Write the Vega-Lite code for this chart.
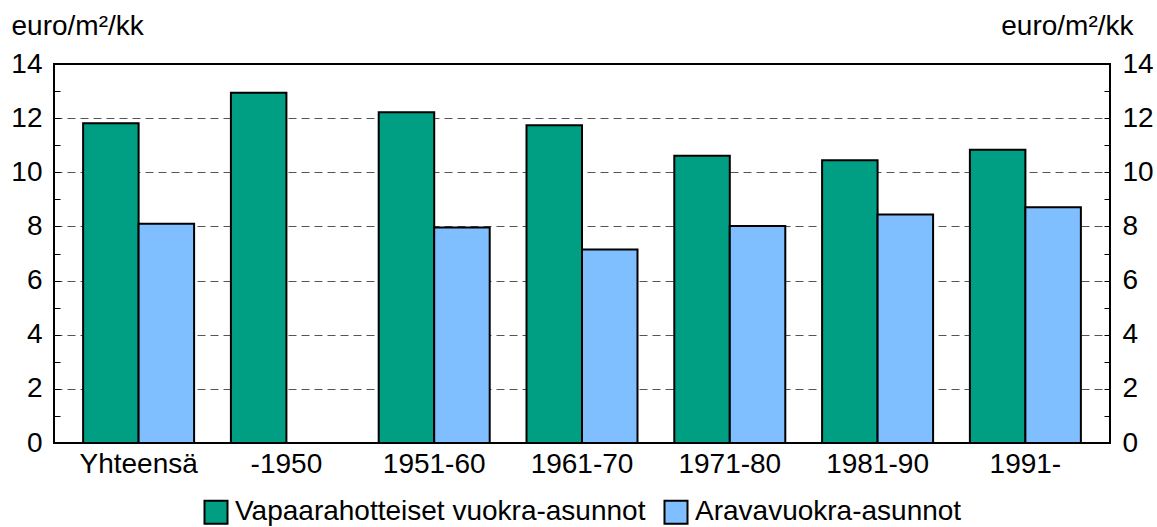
{
  "$schema": "https://vega.github.io/schema/vega-lite/v6.json",
  "width": 1056,
  "height": 379,
  "autosize": {"type": "none"},
  "padding": {"left": 54, "top": 64, "right": 47, "bottom": 84},
  "background": "white",
  "config": {
    "font": "Liberation Sans",
    "view": {"stroke": "black", "strokeWidth": 2},
    "axis": {"labelFont": "Liberation Sans", "labelColor": "black", "titleFont": "Liberation Sans", "titleColor": "black"},
    "legend": {"labelFont": "Liberation Sans", "labelColor": "black"}
  },
  "data": {
    "values": [
      {"kausi": "Yhteensä", "sarja": "Vapaarahotteiset vuokra-asunnot", "arvo": 11.81},
      {"kausi": "Yhteensä", "sarja": "Aravavuokra-asunnot", "arvo": 8.10},
      {"kausi": "-1950", "sarja": "Vapaarahotteiset vuokra-asunnot", "arvo": 12.94},
      {"kausi": "1951-60", "sarja": "Vapaarahotteiset vuokra-asunnot", "arvo": 12.22},
      {"kausi": "1951-60", "sarja": "Aravavuokra-asunnot", "arvo": 7.96},
      {"kausi": "1961-70", "sarja": "Vapaarahotteiset vuokra-asunnot", "arvo": 11.74},
      {"kausi": "1961-70", "sarja": "Aravavuokra-asunnot", "arvo": 7.15},
      {"kausi": "1971-80", "sarja": "Vapaarahotteiset vuokra-asunnot", "arvo": 10.61},
      {"kausi": "1971-80", "sarja": "Aravavuokra-asunnot", "arvo": 8.02},
      {"kausi": "1981-90", "sarja": "Vapaarahotteiset vuokra-asunnot", "arvo": 10.44},
      {"kausi": "1981-90", "sarja": "Aravavuokra-asunnot", "arvo": 8.44},
      {"kausi": "1991-", "sarja": "Vapaarahotteiset vuokra-asunnot", "arvo": 10.83},
      {"kausi": "1991-", "sarja": "Aravavuokra-asunnot", "arvo": 8.71}
    ]
  },
  "layer": [
    {
      "mark": {"type": "bar", "stroke": "black", "strokeWidth": 2},
      "encoding": {
        "x": {
          "field": "kausi", "type": "nominal",
          "sort": ["Yhteensä", "-1950", "1951-60", "1961-70", "1971-80", "1981-90", "1991-"],
          "scale": {"paddingInner": 0.249, "paddingOuter": 0.197},
          "axis": {"title": null, "labelAngle": 0, "labelFontSize": 28, "ticks": false, "domain": false, "labelPadding": 7}
        },
        "xOffset": {
          "field": "sarja", "type": "nominal",
          "sort": ["Vapaarahotteiset vuokra-asunnot", "Aravavuokra-asunnot"],
          "scale": {"paddingInner": 0, "paddingOuter": 0}
        },
        "y": {
          "field": "arvo", "type": "quantitative",
          "scale": {"domain": [0, 14], "nice": false},
          "axis": {
            "orient": "left",
            "values": [0, 1, 2, 3, 4, 5, 6, 7, 8, 9, 10, 11, 12, 13, 14],
            "labelExpr": "datum.value % 2 == 0 ? datum.label : ''",
            "grid": true, "gridDash": [8, 5], "gridColor": "#555555", "gridWidth": 1,
            "gridOpacity": {"condition": {"test": "datum.value % 2 == 1 || datum.value == 0 || datum.value == 14", "value": 0}, "value": 1},
            "tickSize": -6, "tickColor": "black", "tickWidth": 1,
            "domain": false,
            "labelFontSize": 28, "labelPadding": 18,
            "title": "euro/m²/kk", "titleAngle": 0, "titleAlign": "left", "titleBaseline": "alphabetic",
            "titleX": -43, "titleY": -30, "titleFontSize": 28, "titleFontWeight": "normal"
          }
        },
        "color": {
          "field": "sarja", "type": "nominal",
          "scale": {"domain": ["Vapaarahotteiset vuokra-asunnot", "Aravavuokra-asunnot"], "range": ["#009E82", "#80BFFF"]},
          "legend": {
            "orient": "none", "legendX": 148, "legendY": 434, "direction": "horizontal", "title": null,
            "symbolType": "square", "symbolSize": 529, "symbolStrokeColor": "black", "symbolStrokeWidth": 2,
            "symbolOpacity": 1, "labelFontSize": 28, "labelOffset": 5, "labelLimit": 0, "columnPadding": 14, "padding": 0
          }
        }
      }
    },
    {
      "mark": {"type": "bar", "opacity": 0},
      "encoding": {
        "x": {"field": "kausi", "type": "nominal", "sort": ["Yhteensä", "-1950", "1951-60", "1961-70", "1971-80", "1981-90", "1991-"]},
        "y": {
          "field": "arvo", "type": "quantitative",
          "scale": {"domain": [0, 14], "nice": false},
          "axis": {
            "orient": "right",
            "values": [0, 1, 2, 3, 4, 5, 6, 7, 8, 9, 10, 11, 12, 13, 14],
            "labelExpr": "datum.value % 2 == 0 ? datum.label : ''",
            "grid": false,
            "tickSize": -6, "tickColor": "black", "tickWidth": 1,
            "domain": false,
            "labelFontSize": 28, "labelPadding": 18,
            "title": "euro/m²/kk", "titleAngle": 0, "titleAlign": "right", "titleBaseline": "alphabetic",
            "titleX": 23, "titleY": -30, "titleFontSize": 28, "titleFontWeight": "normal"
          }
        }
      }
    }
  ],
  "resolve": {"scale": {"y": "independent"}}
}
